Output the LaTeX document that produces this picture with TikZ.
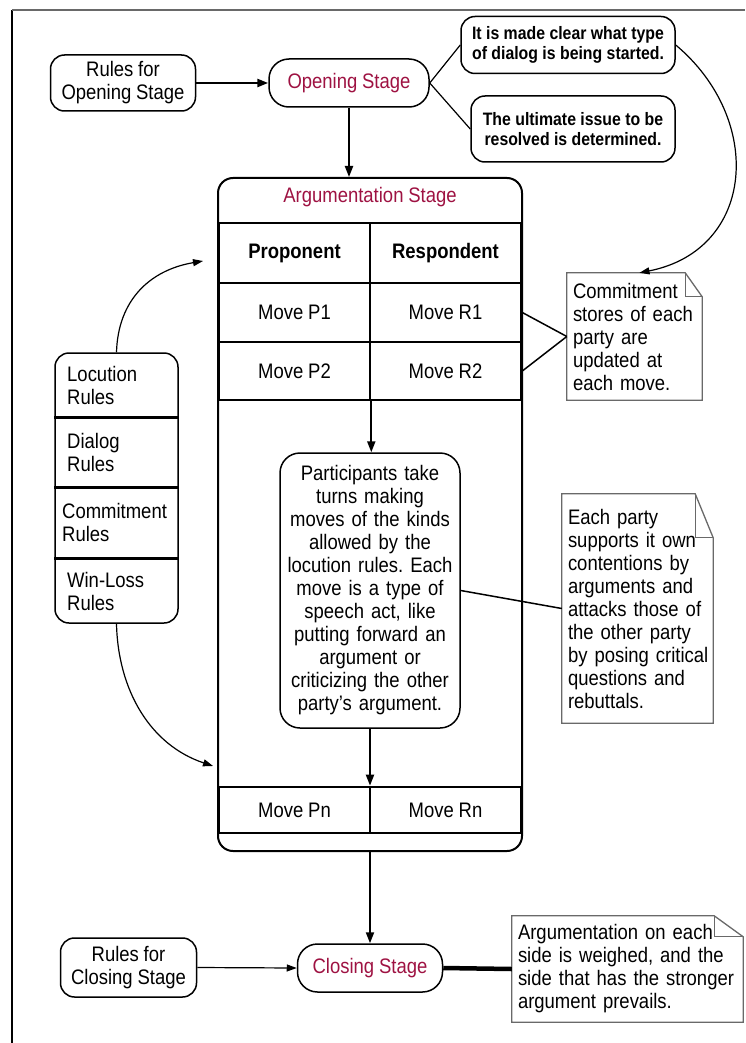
\documentclass[tikz,border=0pt]{standalone}
\usepackage{fontspec}
\setmainfont{Liberation Sans}[FakeStretch=0.88]
\usetikzlibrary{arrows.meta}
\frenchspacing
\hyphenpenalty=10000
\exhyphenpenalty=10000
\definecolor{stagered}{RGB}{158,18,66}
\definecolor{notegray}{RGB}{105,105,105}
\newcommand\diagfont{\fontsize{21}{23}\selectfont\spaceskip=4.8pt plus 1pt minus 1pt\relax}
\newcommand\issuefont{\bfseries\fontsize{18}{19.5}\selectfont\spaceskip=4.4pt plus 1pt minus 1pt\relax}
\tikzset{
  every node/.style={font=\diagfont},
  rulebox/.style={draw, line width=1.5pt, rounded corners=14pt, align=center, inner sep=0pt},
  stagebox/.style={rulebox, rounded corners=20pt, text=stagered},
  issuebox/.style={rulebox, font=\issuefont},
  cell/.style={draw, line width=2.6pt, minimum width=151pt, inner sep=0pt},
  headcell/.style={cell, font=\bfseries\diagfont},
  note/.style={inner xsep=6pt, inner ysep=0pt, align=left},
  arr/.style={-{Triangle[length=11pt,width=8pt]}, line width=2pt},
  thinarr/.style={-{Triangle[length=10pt,width=7pt]}, line width=1.2pt}
}
\begin{document}
\begin{tikzpicture}[x=1pt,y=-1pt]
\useasboundingbox (0,0) rectangle (745,1043);
\draw[line width=1.5pt] (12,1043) -- (12,10);
\draw[notegray,line width=2pt] (12,10) -- (745,10);

\node[rulebox,minimum width=145pt,minimum height=56pt] (rulesopen) at (123,83) {Rules for\\Opening Stage};
\node[stagebox,minimum width=160pt,minimum height=48pt] (opening) at (349,83) {Opening Stage};
\node[issuebox,minimum width=214pt,minimum height=57pt] (clarify) at (568,45) {It is made clear what type\\of dialog is being started.};
\node[issuebox,minimum width=204pt,minimum height=66pt] (issue) at (573,129) {The ultimate issue to be\\resolved is determined.};

\node[draw,line width=2pt,rounded corners=15pt,minimum width=304pt,minimum height=673pt,inner sep=0pt] (argbox) at (370,514.5) {};
\node[text=stagered] (argtitle) at (370,197) {Argumentation Stage};
\node[headcell,minimum height=60pt] (prop) at (294.5,253) {Proponent};
\node[headcell,minimum height=60pt] (resp) at (445.5,253) {Respondent};
\node[cell,minimum height=59pt] (p1) at (294.5,312.5) {Move P1};
\node[cell,minimum height=59pt] (r1) at (445.5,312.5) {Move R1};
\node[cell,minimum height=58pt] (p2) at (294.5,371) {Move P2};
\node[cell,minimum height=58pt] (r2) at (445.5,371) {Move R2};
\node[cell,minimum height=46pt] (pn) at (294.5,810) {Move Pn};
\node[cell,minimum height=46pt] (rn) at (445.5,810) {Move Rn};

\node[rulebox,rounded corners=20pt,minimum width=180pt,minimum height=275pt,text width=174pt] (moves) at (370,590.5) {Participants take\\turns making\\moves of the kinds\\allowed by the\\locution rules. Each\\move is a type of\\speech act, like\\putting forward an\\argument or\\criticizing the other\\party's argument.};

\node[rulebox,minimum width=123pt,minimum height=270pt] (rules) at (116.5,488) {};
\draw[line width=3pt] (rules.west |- 0,417) -- (rules.east |- 0,417);
\draw[line width=3pt] (rules.west |- 0,487) -- (rules.east |- 0,487);
\draw[line width=3pt] (rules.west |- 0,558) -- (rules.east |- 0,558);
\node[anchor=west,align=left,inner sep=0pt] (locution) at (67,385) {Locution\\Rules};
\node[anchor=west,align=left,inner sep=0pt] (dialog) at (67,452) {Dialog\\Rules};
\node[anchor=west,align=left,inner sep=0pt] (commitrules) at (62,522.5) {Commitment\\Rules};
\node[anchor=west,align=left,inner sep=0pt] (winloss) at (67,591) {Win-Loss\\Rules};

\node[note,text width=123pt,minimum height=127pt] (commit) at (634.5,336.5) {Commitment\\stores of each\\party are\\updated at\\each move.};
\draw[notegray,line width=1.3pt] (commit.north west) -- ([xshift=-17pt]commit.north east) -- ([yshift=-24pt]commit.north east) -- (commit.south east) -- (commit.south west) -- cycle;
\draw[notegray,line width=1pt] ([xshift=-17pt]commit.north east) -- ++(0,24) -- ([yshift=-24pt]commit.north east);
\node[note,text width=139pt,minimum height=229pt] (eachparty) at (637.5,608.5) {Each party\\supports it own\\contentions by\\arguments and\\attacks those of\\the other party\\by~posing~critical\\questions and\\rebuttals.};
\draw[notegray,line width=1.3pt] (eachparty.north west) -- ([xshift=-18pt]eachparty.north east) -- ([yshift=-44pt]eachparty.north east) -- (eachparty.south east) -- (eachparty.south west) -- cycle;
\draw[notegray,line width=1pt] ([xshift=-18pt]eachparty.north east) -- ++(0,44) -- ([yshift=-44pt]eachparty.north east);

\node[rulebox,minimum width=136pt,minimum height=59pt] (rulesclose) at (128.5,967.5) {Rules for\\Closing Stage};
\node[stagebox,minimum width=145pt,minimum height=48pt] (closing) at (370,968) {Closing Stage};
\node[note,text width=219pt,minimum height=106pt] (verdict) at (627.5,969) {Argumentation on each\\side is weighed, and the\\side that has the stronger\\argument prevails.};
\draw[notegray,line width=1.3pt] (verdict.north west) -- ([xshift=-29pt]verdict.north east) -- ([yshift=-21pt]verdict.north east) -- (verdict.south east) -- (verdict.south west) -- cycle;
\draw[notegray,line width=1pt] ([xshift=-29pt]verdict.north east) -- ++(0,21) -- ([yshift=-21pt]verdict.north east);

\draw[arr,line width=2.5pt] (rulesopen.east) -- (opening.west);
\draw[line width=1.2pt] (opening.east) -- (clarify.west);
\draw[line width=1.2pt] (opening.east) -- (issue.west);
\draw[thinarr] (clarify.east) .. controls (765,120) and (755,250) .. ([xshift=5pt]commit.north);
\draw[arr] (opening.south) -- (opening.south |- argbox.north);
\draw[line width=1.5pt] (r1.east) -- (commit.west);
\draw[line width=1.5pt] (r2.east) -- (commit.west);
\draw[arr] (p2.south east) -- (p2.south east |- moves.north);
\draw[arr] (moves.south) -- (moves.south |- pn.north);
\draw[line width=1.5pt] (moves.east) -- (eachparty.west);
\draw[arr] (argbox.south) -- (closing.north);
\draw[thinarr] (rulesclose.east) -- (closing.west);
\draw[line width=4.5pt] (closing.east) -- (verdict.west);

\coordinate (intop) at (203,261);
\coordinate (inbot) at (213,766);
\draw[thinarr] (rules.north) .. controls (118,300) and (150,270) .. (intop);
\draw[thinarr] (rules.south) .. controls (118,690) and (150,745) .. (inbot);
\end{tikzpicture}
\end{document}
